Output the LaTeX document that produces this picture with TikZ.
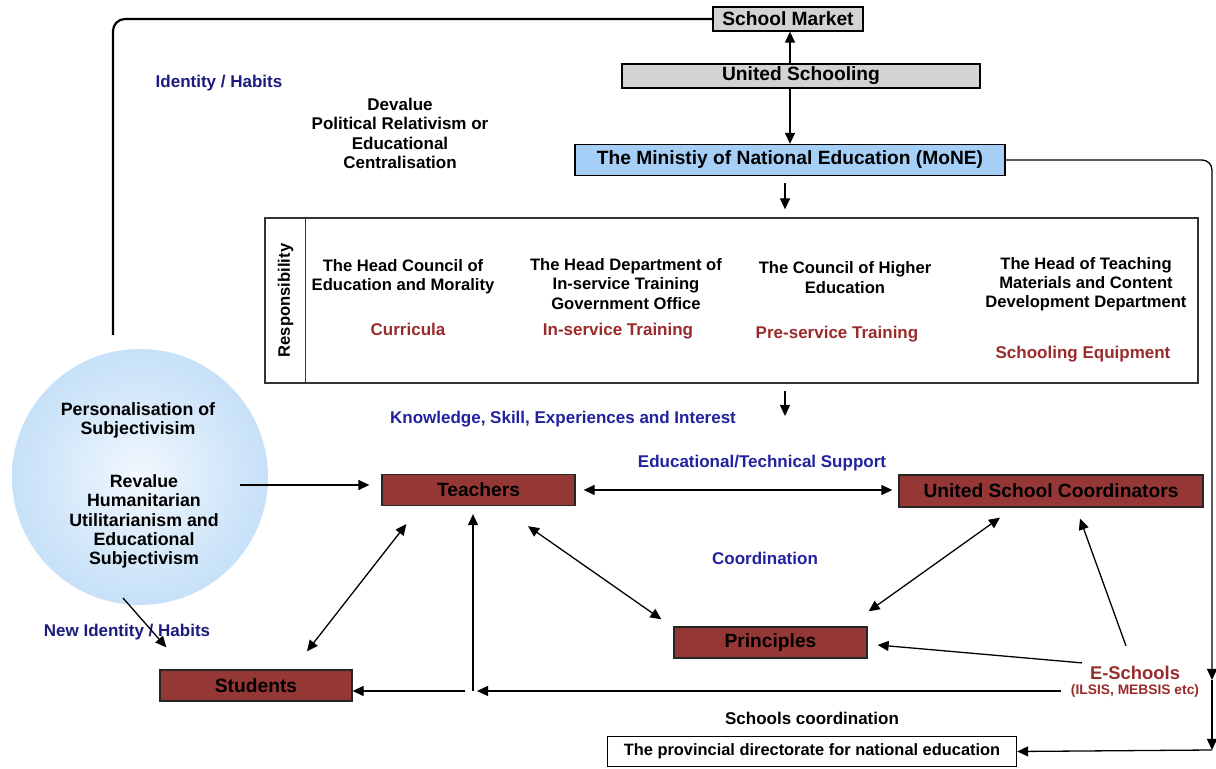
\documentclass[tikz,border=0pt]{standalone}
\usepackage{fontspec}
\setmainfont{Liberation Sans}
\usetikzlibrary{arrows.meta, positioning, calc}

\definecolor{BoxRed}{HTML}{953735}
\definecolor{TextRed}{HTML}{9A2B2B}
\definecolor{LabelBlue}{HTML}{22229E}
\definecolor{NavyBlue}{HTML}{1C1C80}
\definecolor{MinBlue}{HTML}{A6CFF7}
\definecolor{PaleGrey}{HTML}{D3D3D3}
\definecolor{DiscBlue}{HTML}{A0CCF2}
\definecolor{DiscCore}{HTML}{F2F8FE}

\pgfdeclareradialshading{discglow}{\pgfpoint{0bp}{0bp}}{color(0bp)=(DiscCore); color(18bp)=(DiscCore!60!DiscBlue); color(50bp)=(DiscBlue)}

\newcommand{\boxfnt}{\fontsize{9.6}{11}\selectfont\bfseries}
\newcommand{\txtfnt}{\fontsize{8.5}{9.6}\selectfont\bfseries}
\newcommand{\colfnt}{\fontsize{8.3}{9.6}\selectfont\bfseries}
\newcommand{\discfnt}{\fontsize{8.9}{9.6}\selectfont\bfseries}
\newcommand{\tinyfnt}{\fontsize{6.9}{8}\selectfont\bfseries}

\tikzset{
  greybox/.style={rectangle, draw=black, line width=0.65pt, fill=PaleGrey,
                  inner sep=0pt, minimum height=12pt, font=\boxfnt},
  redbox/.style={rectangle, draw=black!85, line width=0.65pt, fill=BoxRed,
                 inner sep=0pt, minimum height=15.5pt, font=\boxfnt},
  bluetext/.style={text=LabelBlue, font=\txtfnt},
  redtext/.style={text=TextRed, font=\txtfnt},
  plaintext/.style={font=\txtfnt, align=center},
  coltext/.style={font=\colfnt, align=center},
  arr/.style={-{Triangle[length=5.5pt,width=5pt]}, line width=0.65pt},
  darr/.style={{Triangle[length=5.5pt,width=5pt]}-{Triangle[length=5.5pt,width=5pt]}, line width=0.65pt},
}

\begin{document}
\begin{tikzpicture}[x=0.5pt, y=-0.5pt]
    \useasboundingbox (0,0) rectangle (1216,769);

    % Top of the hierarchy
    \node[greybox, minimum width=75pt] (market) at (788,19) {School Market};
    \node[greybox, minimum width=179pt] (united) at (801,76) {United Schooling};
    \node[rectangle, draw=black, line width=0.65pt, fill=MinBlue, inner sep=0pt,
          minimum width=215pt, minimum height=15.5pt, font=\boxfnt]
        (mone) at (790,160) {The Ministiy of National Education (MoNE)};

    \draw[arr] (mone.north |- united.north) -- (mone.north |- market.south);
    \draw[arr] (mone.north |- united.south) -- (mone.north);

    % Free labels at the top
    \node[bluetext, text=NavyBlue] (ident) at (219,83) {Identity / Habits};
    \node[plaintext] (devalue) at (400,133.5) {Devalue\\Political Relativism or\\Educational\\Centralisation};

    % Responsibility frame
    \node[rectangle, draw=black!80, line width=0.65pt, inner sep=0pt,
          minimum width=466.5pt, minimum height=82.5pt] (resp) at (731.5,300.5) {};
    \draw[line width=0.65pt, black!80] ([xshift=20.5pt]resp.north west) -- ([xshift=20.5pt]resp.south west);
    \node[rotate=90, font=\colfnt] (resplab) at (285.5,300.5) {Responsibility};

    \node[coltext] (col1) at (403,277) {The Head Council of\\Education and Morality};
    \node[coltext] (col2) at (626,284) {The Head Department of\\In-service Training\\Government Office};
    \node[coltext] (col3) at (845,277.5) {The Council of Higher\\Education};
    \node[coltext] (col4) at (1086,284) {The Head of Teaching\\Materials and Content\\Development Department};

    \node[redtext] (task1) at (408,329) {Curricula};
    \node[redtext] (task2) at (618,331) {In-service Training};
    \node[redtext] (task3) at (837,334) {Pre-service Training};
    \node[redtext] (task4) at (1083,354) {Schooling Equipment};

    \draw[arr, shorten <=3.5pt, shorten >=4pt] ([xshift=-2.5pt]mone.south) -- ([xshift=-2.5pt]mone.south |- resp.north);
    \coordinate (kn) at (785,416);
    \draw[arr, shorten <=3.5pt] (kn |- resp.south) -- (kn);

    \node[bluetext] (know) at (563,419) {Knowledge, Skill, Experiences and Interest};

    % Subjectivism disc
    \node[circle, minimum size=128pt, inner sep=0pt, shading=discglow] (disc) at (140,477) {};
    \node[font=\discfnt, align=center] (pers) at (138,420.5) {Personalisation of\\Subjectivisim};
    \node[font=\discfnt, align=center] (reval) at (144,521.5) {Revalue\\Humanitarian\\Utilitarianism and\\Educational\\Subjectivism};
    \node[bluetext, text=NavyBlue] (newid) at (127,632) {New Identity / Habits};

    % Actors
    \node[redbox, minimum width=96.5pt] (teachers) at (478.5,490) {Teachers};
    \node[redbox, minimum width=152pt, minimum height=16pt] (usc) at (1051,491) {United School Coordinators};
    \node[redbox, minimum width=96.5pt] (principles) at (770.5,642.5) {Principles};
    \node[redbox, minimum width=96pt] (students) at (256,685.5) {Students};

    \node[bluetext] (support) at (762,463) {Educational/Technical Support};
    \node[bluetext] (coord) at (765,558) {Coordination};

    \node[align=center, text=TextRed, inner sep=0pt, font=\fontsize{9.2}{7.6}\selectfont\bfseries]
        (eschool) at (1135,682) {E-Schools\\{\tinyfnt (ILSIS, MEBSIS etc)}};

    \node[plaintext] (schcoord) at (812,718) {Schools coordination};
    \node[rectangle, draw=black, line width=0.65pt, fill=white, inner sep=0pt,
          minimum width=204.5pt, minimum height=15pt, font=\fontsize{8.2}{9.6}\selectfont\bfseries]
        (prov) at (812,751.5) {The provincial directorate for national education};

    % Long connectors
    \coordinate (lend) at (113,335);
    \draw[line width=1.1pt, rounded corners=6pt] (market.west) -| (lend);

    \coordinate (rdown) at (1212,680);
    \coordinate (rcorner) at (1212,750);
    \draw[arr, rounded corners=5pt] (mone.east) -| (rdown);
    \draw[arr] (rdown) -- (rcorner);
    \draw[arr] (rcorner) -- (prov.east);

    % Disc to actors
    \draw[arr] ([xshift=50pt,yshift=-4pt]disc.center) -- ([xshift=-6pt,yshift=2.5pt]teachers.west);
    \draw[arr] ([xshift=-8.5pt,yshift=-60.5pt]disc.center) -- ([xshift=3.5pt,yshift=11pt]students.north west);

    % Between actors
    \draw[darr, shorten <=4pt, shorten >=3pt] (teachers.east) -- (teachers.east -| usc.west);
    \draw[darr] ([xshift=12.5pt,yshift=-9pt]teachers.south west) -- ([xshift=25.5pt,yshift=9pt]students.north);
    \draw[darr] ([xshift=24.75pt,yshift=-10pt]teachers.south) -- ([xshift=-6pt,yshift=3.5pt]principles.north west);
    \draw[darr] ([xshift=-25.5pt,yshift=-5pt]usc.south) -- ([xshift=0.5pt,yshift=7.5pt]principles.north east);

    % E-Schools feed
    \draw[arr] ([xshift=-4.5pt,yshift=10pt]eschool.north) -- ([xshift=14.5pt,yshift=-5.5pt]usc.south);
    \draw[arr] ([xshift=-26.5pt,yshift=1.5pt]eschool.north) -- ([xshift=5pt,yshift=-1.25pt]principles.east);

    \coordinate (hub) at (473,691);
    \draw[arr] ([xshift=-5pt]eschool.west |- hub) -- ([xshift=2pt]hub);
    \draw[arr, shorten >=4pt] (hub) -- (hub |- teachers.south);
    \draw[arr] ([xshift=-4pt]hub) -- (hub -| students.east);
\end{tikzpicture}
\end{document}
